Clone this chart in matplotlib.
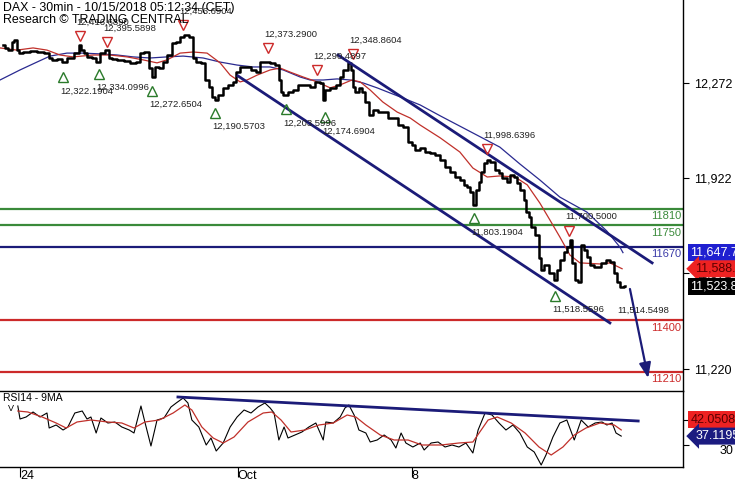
import matplotlib
matplotlib.use("Agg")
import matplotlib.pyplot as plt
import matplotlib.transforms as mtransforms

plt.rcParams['font.family'] = ['Liberation Sans', 'DejaVu Sans']

# time axis: trading days counted from the 24 Sep session (Oct 3 holiday skipped)
t = [-0.39, -0.30, -0.23, -0.16, -0.11, -0.05, 0.00, 0.16, 0.30, 0.46,
     0.62, 0.69, 0.80, 0.92, 1.03, 1.15, 1.31, 1.38, 1.43, 1.49,
     1.61, 1.72, 1.79, 1.91, 2.00, 2.07, 2.18, 2.30, 2.46, 2.60,
     2.71, 2.80, 2.92, 2.99, 3.06, 3.15, 3.26, 3.33, 3.45, 3.52,
     3.63, 3.72, 3.84, 3.91, 4.02, 4.09, 4.21, 4.30, 4.37, 4.44,
     4.51, 4.60, 4.71, 4.83, 4.94, 5.01, 5.10, 5.24, 5.36, 5.47,
     5.56, 5.68, 5.79, 5.91, 5.98, 6.02, 6.09, 6.21, 6.32, 6.48,
     6.62, 6.71, 6.83, 6.94, 6.97, 7.06, 7.20, 7.31, 7.40, 7.47,
     7.59, 7.63, 7.66, 7.75, 7.82, 7.89, 7.98, 8.05, 8.16, 8.28,
     8.39, 8.51, 8.62, 8.74, 8.85, 8.97, 9.03, 9.15, 9.26, 9.36,
     9.49, 9.61, 9.70, 9.82, 9.95, 10.07, 10.16, 10.23, 10.30, 10.39,
     10.44, 10.51, 10.57, 10.64, 10.69, 10.76, 10.87, 10.97, 11.03, 11.15,
     11.22, 11.31, 11.38, 11.45, 11.54, 11.61, 11.66, 11.72, 11.79, 11.89,
     11.95, 12.00, 12.11, 12.23, 12.30, 12.37, 12.46, 12.53, 12.60, 12.67,
     12.71, 12.80, 12.87, 12.92, 12.99, 13.06, 13.15, 13.26, 13.33, 13.40,
     13.52, 13.61, 13.68, 13.75, 13.84, 13.91]
close = [12412, 12401, 12393, 12423, 12430, 12393, 12382, 12386, 12390, 12386,
         12382, 12364, 12357, 12360, 12349, 12364, 12382, 12412, 12393, 12382,
         12368, 12364, 12349, 12382, 12393, 12364, 12360, 12357, 12353, 12346,
         12349, 12382, 12386, 12327, 12294, 12331, 12327, 12349, 12375, 12419,
         12423, 12441, 12449, 12441, 12364, 12349, 12346, 12283, 12257, 12220,
         12209, 12228, 12254, 12265, 12276, 12312, 12331, 12331, 12320, 12312,
         12349, 12349, 12346, 12338, 12283, 12239, 12228, 12239, 12246, 12265,
         12265, 12257, 12276, 12272, 12209, 12246, 12254, 12265, 12294, 12320,
         12346, 12320, 12257, 12239, 12254, 12239, 12202, 12154, 12173, 12165,
         12165, 12143, 12143, 12117, 12110, 12055, 12044, 12025, 12033, 12018,
         12014, 12007, 11989, 11963, 11944, 11926, 11915, 11897, 11889, 11871,
         11823, 11878, 11908, 11944, 11978, 11989, 11981, 11952, 11941, 11922,
         11908, 11933, 11926, 11904, 11878, 11841, 11797, 11779, 11742, 11713,
         11628, 11584, 11602, 11573, 11547, 11584, 11621, 11650, 11668, 11694,
         11610, 11547, 11540, 11676, 11657, 11632, 11602, 11595, 11595, 11610,
         11621, 11613, 11573, 11540, 11521, 11524]

ma_fast_t = [-0.46, -0.07, 0.30, 0.62, 0.92, 1.22, 1.68, 2.07, 2.46, 2.83,
             3.15, 3.38, 3.68, 3.98, 4.30, 4.60, 4.83, 5.06, 5.22, 5.45,
             5.75, 5.98, 6.21, 6.51, 6.83, 7.13, 7.36, 7.63, 7.82, 8.05,
             8.34, 8.67, 8.97, 9.20, 9.66, 10.11, 10.41, 10.74, 11.03, 11.38,
             11.66, 11.95, 12.18, 12.41, 12.64, 12.87, 13.33, 13.56, 13.84]
ma_fast = [12401, 12393, 12401, 12393, 12375, 12368, 12375, 12375, 12368, 12357,
           12346, 12357, 12382, 12386, 12382, 12346, 12301, 12276, 12283, 12301,
           12320, 12327, 12312, 12294, 12276, 12254, 12265, 12283, 12276, 12246,
           12202, 12165, 12143, 12117, 12070, 12018, 11959, 11926, 11930, 11926,
           11897, 11830, 11768, 11705, 11639, 11610, 11606, 11610, 11588.4]

ma_slow_t = [-0.46, 0.00, 0.39, 0.69, 1.08, 1.45, 1.84, 2.23, 2.60, 2.99,
             3.38, 3.75, 4.21, 4.60, 4.99, 5.36, 5.75, 6.05, 6.44, 6.67,
             6.97, 7.29, 7.59, 7.89, 8.21, 8.51, 8.80, 9.20, 9.66, 10.28,
             11.03, 11.49, 11.95, 12.41, 13.03, 13.49, 13.79, 13.86]
ma_slow = [12283, 12320, 12349, 12371, 12382, 12382, 12379, 12375, 12368, 12364,
           12368, 12371, 12364, 12349, 12338, 12331, 12331, 12320, 12294, 12283,
           12283, 12287, 12283, 12272, 12254, 12235, 12217, 12191, 12151, 12099,
           12036, 11974, 11915, 11852, 11797, 11727, 11668, 11647.7]

rsi_t = [-0.05, 0.00, 0.14, 0.30, 0.46, 0.62, 0.67, 0.83, 0.99, 1.10,
         1.26, 1.43, 1.54, 1.63, 1.75, 1.86, 2.02, 2.18, 2.34, 2.51,
         2.62, 2.78, 2.87, 3.01, 3.15, 3.31, 3.47, 3.59, 3.75, 3.86,
         3.95, 4.11, 4.28, 4.39, 4.51, 4.67, 4.83, 4.99, 5.15, 5.31,
         5.47, 5.63, 5.75, 5.84, 5.95, 6.07, 6.16, 6.32, 6.48, 6.64,
         6.80, 6.97, 7.03, 7.20, 7.36, 7.47, 7.56, 7.68, 7.79, 7.95,
         8.05, 8.21, 8.37, 8.53, 8.64, 8.76, 8.87, 9.03, 9.20, 9.29,
         9.45, 9.61, 9.77, 9.93, 10.09, 10.25, 10.41, 10.53, 10.69, 10.85,
         11.01, 11.17, 11.33, 11.49, 11.66, 11.82, 11.98, 12.09, 12.25, 12.41,
         12.57, 12.74, 12.90, 13.06, 13.22, 13.38, 13.49, 13.61, 13.70, 13.82]
rsi = [61.2, 50.8, 52.4, 56.4, 52.4, 55.6, 43.6, 46.0, 42.0, 44.4,
       55.6, 57.2, 50.8, 52.4, 39.6, 51.6, 47.6, 48.4, 44.4, 42.0,
       39.6, 61.2, 48.4, 29.2, 50.0, 51.6, 60.4, 63.6, 67.6, 63.6,
       50.0, 44.4, 30.0, 35.6, 25.2, 31.6, 44.4, 52.4, 58.0, 55.6,
       60.4, 63.6, 59.6, 55.6, 34.0, 44.4, 35.6, 38.0, 40.4, 44.4,
       47.6, 34.0, 48.4, 47.6, 52.4, 59.6, 62.0, 54.0, 42.0, 39.6,
       32.4, 34.0, 38.0, 34.0, 27.6, 39.6, 31.6, 28.4, 31.6, 26.0,
       31.6, 32.4, 28.4, 30.0, 28.4, 31.6, 23.6, 42.0, 55.6, 54.0,
       47.6, 42.0, 46.0, 39.6, 28.4, 24.4, 14.0, 22.0, 36.4, 47.6,
       50.0, 34.0, 50.0, 44.4, 47.6, 48.4, 46.0, 47.6, 39.6, 37.1195]

rsi_ma_t = [-0.05, 0.18, 0.51, 0.83, 1.06, 1.31, 1.63, 2.02, 2.34, 2.62,
            2.87, 3.20, 3.52, 3.79, 3.95, 4.18, 4.44, 4.67, 4.92, 5.24,
            5.59, 5.79, 6.00, 6.23, 6.55, 6.87, 7.20, 7.52, 7.72, 7.95,
            8.28, 8.60, 8.92, 9.24, 9.68, 10.09, 10.41, 10.76, 10.97, 11.29,
            11.61, 11.93, 12.21, 12.48, 12.74, 13.01, 13.33, 13.66, 13.82]
rsi_ma = [57.2, 56.4, 52.4, 47.6, 43.6, 48.4, 50.0, 48.4, 47.6, 43.6,
          48.4, 50.0, 55.6, 62.0, 58.0, 44.4, 35.6, 31.6, 36.4, 48.4,
          55.6, 56.4, 50.0, 40.4, 42.0, 46.0, 47.6, 54.0, 52.4, 46.0,
          38.0, 34.0, 34.0, 30.0, 30.0, 31.6, 32.4, 50.0, 52.4, 47.6,
          39.6, 28.4, 22.0, 28.4, 38.0, 43.6, 47.6, 46.0, 42.0508]

# swing points
high_t = [1.38, 2.00, 3.75, 5.70, 6.83, 7.66, 10.74, 12.62]
high_v = [12416.6890, 12395.5898, 12456.6904, 12373.2900, 12290.4897,
          12348.8604, 11998.6396, 11700.5000]
low_t = [0.99, 1.82, 3.03, 4.48, 6.11, 7.01, 10.44, 12.30]
low_v = [12322.1904, 12334.0996, 12272.6504, 12190.5703, 12203.5996,
         12174.6904, 11803.1904, 11518.5596]
last_low_t, last_low_v = 13.79, 11514.5498

# support / resistance levels
levels = [11810, 11750, 11670, 11400, 11210]
level_kind = ['res', 'res', 'pivot', 'sup', 'sup']

# channel lines, target arrow, RSI trend line
upper_t, upper_v = [7.31, 14.53], [12375, 11610]
lower_t, lower_v = [5.01, 13.56], [12298, 11389]
arrow_t, arrow_v = [14.02, 14.44], [11514, 11186]
rsi_tl_t, rsi_tl_v = [3.63, 14.21], [68.4, 49.2]

price_ticks = [12272, 11922, 11571, 11220]
day_ticks = [0, 5, 9]
day_labels = ['24', 'Oct', '8']

NAVY = '#1b1b78'
GREEN = '#3a8a3a'
RED = '#cc2a2a'
level_color = {'res': GREEN, 'pivot': NAVY, 'sup': RED}
level_text = {'res': GREEN, 'pivot': '#3b3ba8', 'sup': RED}

fig = plt.figure(figsize=(7.35, 4.8), dpi=100)
ax = fig.add_axes([0, 89 / 480, 683 / 735, 391 / 480])
ax_rsi = fig.add_axes([0, 13 / 480, 683 / 735, 76 / 480])

ax.set_xlim(-0.46, 15.24)
ax.set_ylim(11138.5, 12577.4)
ax_rsi.set_xlim(-0.46, 15.24)
ax_rsi.set_ylim(12.4, 73.2)

for lv, kind in zip(levels, level_kind):
    ax.axhline(lv, color=level_color[kind], lw=1.6, zorder=1)
    ax.annotate(str(lv), xy=(1, lv), xycoords=('axes fraction', 'data'),
                xytext=(-1.5, -5.6), textcoords='offset points',
                ha='right', va='center', fontsize=8, color=level_text[kind])

ax.plot(ma_slow_t, ma_slow, color='#2a2a90', lw=0.9, zorder=2)
ax.plot(ma_fast_t, ma_fast, color='#c0302a', lw=0.9, zorder=2)
ax.plot(t, close, color='black', lw=1.8, drawstyle='steps-mid', zorder=3)

ax.plot(upper_t, upper_v, color=NAVY, lw=2.0, zorder=4)
ax.plot(lower_t, lower_v, color=NAVY, lw=2.0, zorder=4)
ax.annotate('', xy=(arrow_t[1], arrow_v[1]), xytext=(arrow_t[0], arrow_v[0]),
            arrowprops=dict(arrowstyle='-|>,head_length=0.9,head_width=0.35',
                            color=NAVY, lw=1.6, shrinkA=0, shrinkB=0))

up = mtransforms.offset_copy(ax.transData, fig=fig, y=5.6, units='points')
down = mtransforms.offset_copy(ax.transData, fig=fig, y=-5.6, units='points')
ax.plot(high_t, high_v, ls='none', marker='v', ms=7.5, mfc='none', mec=RED,
        mew=1.0, transform=up, zorder=5)
ax.plot(low_t, low_v, ls='none', marker='^', ms=7.5, mfc='none', mec='#2a7a2a',
        mew=1.0, transform=down, zorder=5)
for tt, v in zip(high_t, high_v):
    ax.annotate(f"{v:,.4f}", xy=(tt, v), xytext=(-2.5, 15.5),
                textcoords='offset points', ha='left', va='center',
                fontsize=6.8, color='#222222', zorder=6)
for tt, v in zip(low_t + [last_low_t], low_v + [last_low_v]):
    ax.annotate(f"{v:,.4f}", xy=(tt, v), xytext=(-2.0, -15.5),
                textcoords='offset points', ha='left', va='center',
                fontsize=6.8, color='#222222', zorder=6)

# right-hand value flags
flags = [(ma_slow[-1], f"{ma_slow[-1]:,.1f}", '#1f1fd0', 'white', 'square', 5.3),
         (ma_fast[-1], f"{ma_fast[-1]:,.1f}", '#ee2222', '#5a0000', 'larrow', 9.0),
         (close[-1], f"{11523.8:,.1f}", 'black', 'white', 'square', 5.3)]
for val, txt, bg, fg, style, dx in flags:
    ax.annotate(txt, xy=(1, val), xycoords=('axes fraction', 'data'),
                xytext=(dx, 0), textcoords='offset points', ha='left',
                va='center', fontsize=9, color=fg, annotation_clip=False,
                bbox=dict(boxstyle=f'{style},pad=0.2', fc=bg, ec='none'),
                zorder=10)

for side in ['top', 'left', 'bottom']:
    ax.spines[side].set_visible(False)
ax.spines['right'].set_linewidth(1.0)
ax.yaxis.tick_right()
ax.set_yticks(price_ticks)
ax.set_yticklabels([f"{v:,}" for v in price_ticks])
ax.tick_params(axis='y', direction='out', length=4, width=0.8, pad=4, labelsize=9)
ax.set_xticks([])

fig.text(3 / 735, 1 - 8 / 480, "DAX - 30min - 10/15/2018 05:12:34 (CET)",
         fontsize=8.9, va='center', ha='left')
fig.text(3 / 735, 1 - 20 / 480, "Research \u00a9 TRADING CENTRAL",
         fontsize=8.9, va='center', ha='left')

# RSI panel
ax_rsi.plot(rsi_t, rsi, color='black', lw=0.8)
ax_rsi.plot(rsi_ma_t, rsi_ma, color='#c0302a', lw=0.9)
ax_rsi.plot(rsi_tl_t, rsi_tl_v, color=NAVY, lw=2.0)
ax_rsi.spines['left'].set_visible(False)
for side in ['top', 'bottom', 'right']:
    ax_rsi.spines[side].set_linewidth(1.0)
ax_rsi.yaxis.tick_right()
ax_rsi.set_yticks([30, 50])
ax_rsi.set_yticklabels(['30', '50'])
ax_rsi.tick_params(axis='y', direction='out', length=4, width=0.8, pad=22, labelsize=9)
for lbl in ax_rsi.get_yticklabels():
    lbl.set_va('top')
ax_rsi.set_xticks(day_ticks)
ax_rsi.set_xticklabels(day_labels)
ax_rsi.tick_params(axis='x', direction='out', length=7, width=0.8, pad=-5, labelsize=9)
for lbl in ax_rsi.get_xticklabels():
    lbl.set_ha('left')
ax_rsi.text(3 / 683, 0.905, "RSI14 - 9MA", transform=ax_rsi.transAxes,
            fontsize=7.5, va='center', ha='left')
ax_rsi.text(8 / 683, 0.77, "V", transform=ax_rsi.transAxes,
            fontsize=6.5, va='center', ha='left')

rsi_flags = [(rsi_ma[-1], f"{rsi_ma[-1]:.4f}", '#ee2222', '#5a0000', 'square', 5.3, 7.2),
             (rsi[-1], f"{rsi[-1]:.4f}", '#1b1b80', 'white', 'larrow', 9.0, 0)]
for val, txt, bg, fg, style, dx, dy in rsi_flags:
    ax_rsi.annotate(txt, xy=(1, val), xycoords=('axes fraction', 'data'),
                    xytext=(dx, dy), textcoords='offset points', ha='left',
                    va='center', fontsize=9, color=fg, annotation_clip=False,
                    bbox=dict(boxstyle=f'{style},pad=0.2', fc=bg, ec='none'),
                    zorder=10)

fig.savefig('out.png', dpi=100)
